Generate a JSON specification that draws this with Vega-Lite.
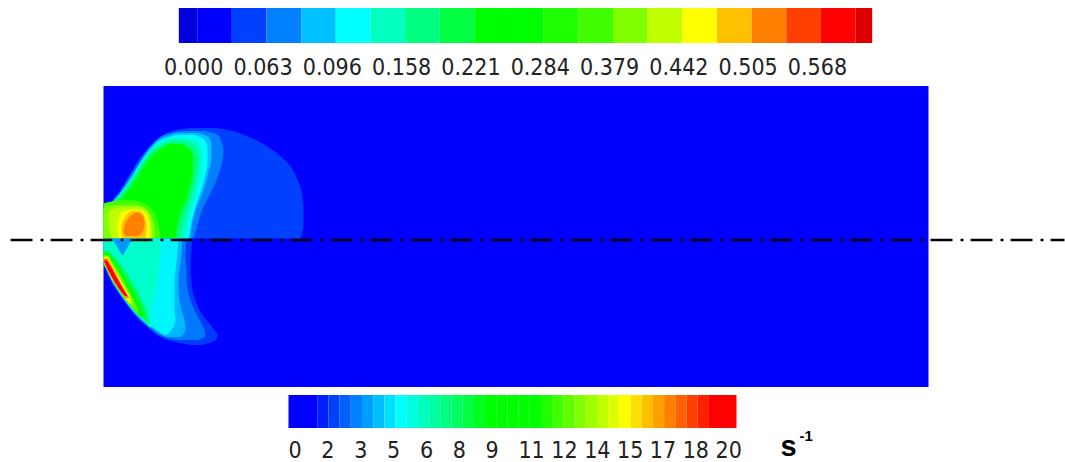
{
  "$schema": "https://vega.github.io/schema/vega-lite/v6.json",
  "padding": {"left": 8.5, "top": 8, "right": 0, "bottom": 0},
  "background": "white",
  "config": {"view": {"stroke": null}},
  "spacing": 8,
  "bounds": "flush",
  "datasets": {
    "topbar": [
      {"band": 0, "p0": -0.53, "p1": 0}, {"band": 1, "p0": 0, "p1": 1}, {"band": 2, "p0": 1, "p1": 2},
      {"band": 3, "p0": 2, "p1": 3}, {"band": 4, "p0": 3, "p1": 4}, {"band": 5, "p0": 4, "p1": 5},
      {"band": 6, "p0": 5, "p1": 6}, {"band": 7, "p0": 6, "p1": 7}, {"band": 8, "p0": 7, "p1": 8},
      {"band": 9, "p0": 8, "p1": 9}, {"band": 10, "p0": 9, "p1": 10}, {"band": 11, "p0": 10, "p1": 11},
      {"band": 12, "p0": 11, "p1": 12}, {"band": 13, "p0": 12, "p1": 13}, {"band": 14, "p0": 13, "p1": 14},
      {"band": 15, "p0": 14, "p1": 15}, {"band": 16, "p0": 15, "p1": 16}, {"band": 17, "p0": 16, "p1": 17},
      {"band": 18, "p0": 17, "p1": 18}, {"band": 19, "p0": 18, "p1": 19}, {"band": 20, "p0": 19, "p1": 19.48}
    ],
    "toplabels": [
      {"p": -0.1, "label": "0.000"}, {"p": 1.9, "label": "0.063"}, {"p": 3.9, "label": "0.096"},
      {"p": 5.9, "label": "0.158"}, {"p": 7.9, "label": "0.221"}, {"p": 9.9, "label": "0.284"},
      {"p": 11.9, "label": "0.379"}, {"p": 13.9, "label": "0.442"}, {"p": 15.9, "label": "0.505"},
      {"p": 17.9, "label": "0.568"}
    ],
    "bottombar": [
      {"v0": 0, "v1": 1.311, "rate": 0.655}, {"v0": 1.311, "v1": 1.822, "rate": 1.567},
      {"v0": 1.822, "v1": 2.333, "rate": 2.078}, {"v0": 2.333, "v1": 2.844, "rate": 2.589},
      {"v0": 2.844, "v1": 3.355, "rate": 3.1}, {"v0": 3.355, "v1": 3.866, "rate": 3.611},
      {"v0": 3.866, "v1": 4.377, "rate": 4.122}, {"v0": 4.377, "v1": 4.888, "rate": 4.633},
      {"v0": 4.888, "v1": 5.399, "rate": 5.144}, {"v0": 5.399, "v1": 5.91, "rate": 5.655},
      {"v0": 5.91, "v1": 6.421, "rate": 6.166}, {"v0": 6.421, "v1": 6.932, "rate": 6.677},
      {"v0": 6.932, "v1": 7.443, "rate": 7.188}, {"v0": 7.443, "v1": 7.954, "rate": 7.699},
      {"v0": 7.954, "v1": 8.465, "rate": 8.21}, {"v0": 8.465, "v1": 8.976, "rate": 8.721},
      {"v0": 8.976, "v1": 9.487, "rate": 9.232}, {"v0": 9.487, "v1": 9.998, "rate": 9.743},
      {"v0": 9.998, "v1": 10.509, "rate": 10.254}, {"v0": 10.509, "v1": 11.02, "rate": 10.765},
      {"v0": 11.02, "v1": 11.531, "rate": 11.276}, {"v0": 11.531, "v1": 12.042, "rate": 11.787},
      {"v0": 12.042, "v1": 12.553, "rate": 12.298}, {"v0": 12.553, "v1": 13.064, "rate": 12.809},
      {"v0": 13.064, "v1": 13.575, "rate": 13.32}, {"v0": 13.575, "v1": 14.086, "rate": 13.831},
      {"v0": 14.086, "v1": 14.597, "rate": 14.342}, {"v0": 14.597, "v1": 15.108, "rate": 14.853},
      {"v0": 15.108, "v1": 15.619, "rate": 15.364}, {"v0": 15.619, "v1": 16.13, "rate": 15.875},
      {"v0": 16.13, "v1": 16.641, "rate": 16.386}, {"v0": 16.641, "v1": 17.152, "rate": 16.897},
      {"v0": 17.152, "v1": 17.663, "rate": 17.408}, {"v0": 17.663, "v1": 18.174, "rate": 17.919},
      {"v0": 18.174, "v1": 18.685, "rate": 18.43}, {"v0": 18.685, "v1": 19.196, "rate": 18.941},
      {"v0": 19.196, "v1": 20.457, "rate": 19.8}
    ],
    "bottomlabels": [
      {"v": 0, "label": "0"}, {"v": 1.5, "label": "2"}, {"v": 3, "label": "3"}, {"v": 4.5, "label": "5"},
      {"v": 6, "label": "6"}, {"v": 7.5, "label": "8"}, {"v": 9, "label": "9"}, {"v": 10.5, "label": "11"},
      {"v": 12, "label": "12"}, {"v": 13.5, "label": "14"}, {"v": 15, "label": "15"}, {"v": 16.5, "label": "17"},
      {"v": 18, "label": "18"}, {"v": 19.5, "label": "20"}
    ],
    "upper": [
      {"band": 2, "y": 110.5, "x0": 87, "x1": 112}, {"band": 2, "y": 108.5, "x0": 73, "x1": 125},
      {"band": 2, "y": 105.5, "x0": 64, "x1": 135}, {"band": 2, "y": 96.5, "x0": 50, "x1": 156},
      {"band": 2, "y": 88.5, "x0": 43, "x1": 169}, {"band": 2, "y": 81.5, "x0": 37, "x1": 178},
      {"band": 2, "y": 73.5, "x0": 32, "x1": 186}, {"band": 2, "y": 65.5, "x0": 27, "x1": 191},
      {"band": 2, "y": 56.5, "x0": 22, "x1": 195}, {"band": 2, "y": 48.5, "x0": 17, "x1": 198},
      {"band": 2, "y": 41.5, "x0": 11, "x1": 199}, {"band": 2, "y": 35.5, "x0": 7, "x1": 200},
      {"band": 2, "y": 31.5, "x0": 0, "x1": 200}, {"band": 2, "y": 13.5, "x0": 0, "x1": 200},
      {"band": 2, "y": 0, "x0": 0, "x1": 197},
      {"band": 3, "y": 107.5, "x0": 77, "x1": 101}, {"band": 3, "y": 104.5, "x0": 63, "x1": 113},
      {"band": 3, "y": 96.5, "x0": 52, "x1": 118}, {"band": 3, "y": 88.5, "x0": 45, "x1": 120},
      {"band": 3, "y": 78.5, "x0": 37, "x1": 119}, {"band": 3, "y": 66.5, "x0": 29, "x1": 116},
      {"band": 3, "y": 53.5, "x0": 21, "x1": 111}, {"band": 3, "y": 41.5, "x0": 13, "x1": 105},
      {"band": 3, "y": 33.5, "x0": 5, "x1": 101}, {"band": 3, "y": 29.5, "x0": 0, "x1": 99},
      {"band": 3, "y": 16.5, "x0": 0, "x1": 95}, {"band": 3, "y": 0, "x0": 0, "x1": 90},
      {"band": 4, "y": 105.5, "x0": 73, "x1": 95}, {"band": 4, "y": 101.5, "x0": 60, "x1": 105},
      {"band": 4, "y": 93.5, "x0": 49, "x1": 108}, {"band": 4, "y": 80.5, "x0": 39, "x1": 108},
      {"band": 4, "y": 66.5, "x0": 31, "x1": 105}, {"band": 4, "y": 51.5, "x0": 21, "x1": 101},
      {"band": 4, "y": 38.5, "x0": 11, "x1": 96}, {"band": 4, "y": 31.5, "x0": 3, "x1": 93},
      {"band": 4, "y": 28.5, "x0": 0, "x1": 92}, {"band": 4, "y": 0, "x0": 0, "x1": 87},
      {"band": 5, "y": 103.5, "x0": 72, "x1": 91}, {"band": 5, "y": 98.5, "x0": 58, "x1": 101},
      {"band": 5, "y": 88.5, "x0": 47, "x1": 104}, {"band": 5, "y": 75.5, "x0": 37, "x1": 104},
      {"band": 5, "y": 60.5, "x0": 28, "x1": 101}, {"band": 5, "y": 46.5, "x0": 18, "x1": 97},
      {"band": 5, "y": 34.5, "x0": 7, "x1": 93}, {"band": 5, "y": 28.5, "x0": 0, "x1": 91},
      {"band": 5, "y": 0, "x0": 0, "x1": 85},
      {"band": 6, "y": 100.5, "x0": 69, "x1": 87}, {"band": 6, "y": 93.5, "x0": 53, "x1": 96},
      {"band": 6, "y": 83.5, "x0": 44, "x1": 99}, {"band": 6, "y": 70.5, "x0": 35, "x1": 98},
      {"band": 6, "y": 55.5, "x0": 25, "x1": 95}, {"band": 6, "y": 41.5, "x0": 14, "x1": 91},
      {"band": 6, "y": 31.5, "x0": 4, "x1": 88}, {"band": 6, "y": 27.5, "x0": 0, "x1": 87},
      {"band": 6, "y": 0, "x0": 0, "x1": 81},
      {"band": 7, "y": 97.5, "x0": 67, "x1": 83}, {"band": 7, "y": 90.5, "x0": 52, "x1": 92},
      {"band": 7, "y": 80.5, "x0": 42, "x1": 95}, {"band": 7, "y": 66.5, "x0": 33, "x1": 94},
      {"band": 7, "y": 51.5, "x0": 23, "x1": 91}, {"band": 7, "y": 38.5, "x0": 12, "x1": 87},
      {"band": 7, "y": 29.5, "x0": 2, "x1": 84}, {"band": 7, "y": 26.5, "x0": 0, "x1": 83},
      {"band": 7, "y": 0, "x0": 0, "x1": 77},
      {"band": 9, "y": 94.5, "x0": 65, "x1": 79}, {"band": 9, "y": 88.5, "x0": 55, "x1": 87},
      {"band": 9, "y": 78.5, "x0": 45, "x1": 90}, {"band": 9, "y": 63.5, "x0": 35, "x1": 89},
      {"band": 9, "y": 48.5, "x0": 25, "x1": 86}, {"band": 9, "y": 35.5, "x0": 14, "x1": 82},
      {"band": 9, "y": 27.5, "x0": 4, "x1": 78}, {"band": 9, "y": 24.5, "x0": 0, "x1": 77},
      {"band": 9, "y": 0, "x0": 0, "x1": 72},
      {"band": 12, "y": 38.5, "x0": 18, "x1": 29}, {"band": 12, "y": 34.5, "x0": 0, "x1": 42},
      {"band": 12, "y": 26.5, "x0": 0, "x1": 50}, {"band": 12, "y": 13.5, "x0": 0, "x1": 55},
      {"band": 12, "y": 0, "x0": 0, "x1": 57},
      {"band": 13, "y": 33.5, "x0": 5, "x1": 35}, {"band": 13, "y": 29.5, "x0": 0, "x1": 43},
      {"band": 13, "y": 18.5, "x0": 0, "x1": 49}, {"band": 13, "y": 0, "x0": 0, "x1": 52},
      {"band": 14, "y": 31.5, "x0": 15, "x1": 37}, {"band": 14, "y": 26.5, "x0": 6, "x1": 44},
      {"band": 14, "y": 18.5, "x0": 5, "x1": 47}, {"band": 14, "y": 0, "x0": 8, "x1": 49},
      {"band": 15, "y": 28.5, "x0": 25, "x1": 37}, {"band": 15, "y": 24.5, "x0": 17, "x1": 42},
      {"band": 15, "y": 13.5, "x0": 14, "x1": 46}, {"band": 15, "y": 0, "x0": 15, "x1": 46},
      {"band": 16, "y": 27.5, "x0": 28, "x1": 36}, {"band": 16, "y": 22.5, "x0": 22, "x1": 41},
      {"band": 16, "y": 10.5, "x0": 18, "x1": 43}, {"band": 16, "y": 0, "x0": 19, "x1": 42},
      {"band": 17, "y": 25.5, "x0": 31, "x1": 36}, {"band": 17, "y": 21.5, "x0": 26, "x1": 40},
      {"band": 17, "y": 14.5, "x0": 22, "x1": 41}, {"band": 17, "y": 6.5, "x0": 20, "x1": 39},
      {"band": 17, "y": 2.5, "x0": 22, "x1": 35}
    ],
    "lower": [
      {"lv": "a01", "rate": 2, "y": 0, "x0": 0, "x1": 89}, {"lv": "a01", "rate": 2, "y": -11.5, "x0": 0, "x1": 88},
      {"lv": "a01", "rate": 2, "y": -23.5, "x0": 0, "x1": 87}, {"lv": "a01", "rate": 2, "y": -31.5, "x0": 2.5, "x1": 87},
      {"lv": "a01", "rate": 2, "y": -41.5, "x0": 7, "x1": 88}, {"lv": "a01", "rate": 2, "y": -51.5, "x0": 13, "x1": 89},
      {"lv": "a01", "rate": 2, "y": -61.5, "x0": 20, "x1": 92}, {"lv": "a01", "rate": 2, "y": -71.5, "x0": 27, "x1": 96},
      {"lv": "a01", "rate": 2, "y": -81.5, "x0": 36, "x1": 103}, {"lv": "a01", "rate": 2, "y": -91.5, "x0": 47, "x1": 111},
      {"lv": "a01", "rate": 2, "y": -97.5, "x0": 55, "x1": 114}, {"lv": "a01", "rate": 2, "y": -102.5, "x0": 67, "x1": 111},
      {"lv": "a01", "rate": 2, "y": -106.5, "x0": 87, "x1": 97},
      {"lv": "a02", "rate": 3, "y": 0, "x0": 0, "x1": 83}, {"lv": "a02", "rate": 3, "y": -23.5, "x0": 0, "x1": 82},
      {"lv": "a02", "rate": 3, "y": -31.5, "x0": 3, "x1": 83}, {"lv": "a02", "rate": 3, "y": -41.5, "x0": 7.5, "x1": 83},
      {"lv": "a02", "rate": 3, "y": -51.5, "x0": 13.5, "x1": 84}, {"lv": "a02", "rate": 3, "y": -61.5, "x0": 20.5, "x1": 87},
      {"lv": "a02", "rate": 3, "y": -71.5, "x0": 28, "x1": 91}, {"lv": "a02", "rate": 3, "y": -81.5, "x0": 37, "x1": 96},
      {"lv": "a02", "rate": 3, "y": -91.5, "x0": 49, "x1": 101}, {"lv": "a02", "rate": 3, "y": -97.5, "x0": 58, "x1": 102},
      {"lv": "a02", "rate": 3, "y": -101.5, "x0": 72, "x1": 94},
      {"lv": "a03", "rate": 4, "y": 0, "x0": 0, "x1": 79}, {"lv": "a03", "rate": 4, "y": -23.5, "x0": 0, "x1": 77},
      {"lv": "a03", "rate": 4, "y": -31.5, "x0": 3, "x1": 76}, {"lv": "a03", "rate": 4, "y": -41.5, "x0": 8, "x1": 75},
      {"lv": "a03", "rate": 4, "y": -51.5, "x0": 14, "x1": 75}, {"lv": "a03", "rate": 4, "y": -61.5, "x0": 21, "x1": 76},
      {"lv": "a03", "rate": 4, "y": -71.5, "x0": 28.5, "x1": 78}, {"lv": "a03", "rate": 4, "y": -81.5, "x0": 38, "x1": 81},
      {"lv": "a03", "rate": 4, "y": -91.5, "x0": 51, "x1": 82}, {"lv": "a03", "rate": 4, "y": -98.5, "x0": 62, "x1": 77},
      {"lv": "a04", "rate": 5, "y": 0, "x0": 0, "x1": 75}, {"lv": "a04", "rate": 5, "y": -23.5, "x0": 0, "x1": 73},
      {"lv": "a04", "rate": 5, "y": -31.5, "x0": 3.5, "x1": 72}, {"lv": "a04", "rate": 5, "y": -41.5, "x0": 8, "x1": 71},
      {"lv": "a04", "rate": 5, "y": -51.5, "x0": 14, "x1": 71}, {"lv": "a04", "rate": 5, "y": -61.5, "x0": 21, "x1": 71},
      {"lv": "a04", "rate": 5, "y": -71.5, "x0": 29, "x1": 71}, {"lv": "a04", "rate": 5, "y": -81.5, "x0": 39, "x1": 72},
      {"lv": "a04", "rate": 5, "y": -91.5, "x0": 53, "x1": 68}, {"lv": "a04", "rate": 5, "y": -96.5, "x0": 60, "x1": 63},
      {"lv": "a05", "rate": 6, "y": 0, "x0": 0, "x1": 58}, {"lv": "a05", "rate": 6, "y": -23.5, "x0": 0, "x1": 56},
      {"lv": "a05", "rate": 6, "y": -31.5, "x0": 3.5, "x1": 55}, {"lv": "a05", "rate": 6, "y": -41.5, "x0": 8, "x1": 54},
      {"lv": "a05", "rate": 6, "y": -51.5, "x0": 14.5, "x1": 52}, {"lv": "a05", "rate": 6, "y": -61.5, "x0": 21.5, "x1": 50},
      {"lv": "a05", "rate": 6, "y": -71.5, "x0": 30, "x1": 48}, {"lv": "a05", "rate": 6, "y": -81.5, "x0": 40, "x1": 47},
      {"lv": "a05", "rate": 6, "y": -88.5, "x0": 46, "x1": 48},
      {"lv": "a06", "rate": 8, "y": -12, "x0": 0, "x1": 5}, {"lv": "a06", "rate": 8, "y": -23.5, "x0": 0, "x1": 15},
      {"lv": "a06", "rate": 8, "y": -31.5, "x0": 3.5, "x1": 21}, {"lv": "a06", "rate": 8, "y": -41.5, "x0": 8.5, "x1": 27},
      {"lv": "a06", "rate": 8, "y": -51.5, "x0": 15, "x1": 33}, {"lv": "a06", "rate": 8, "y": -61.5, "x0": 22, "x1": 38},
      {"lv": "a06", "rate": 8, "y": -71.5, "x0": 30, "x1": 42}, {"lv": "a06", "rate": 8, "y": -81.5, "x0": 41, "x1": 45},
      {"lv": "a06", "rate": 8, "y": -85.5, "x0": 44, "x1": 46},
      {"lv": "a07", "rate": 10, "y": -15, "x0": 0, "x1": 5}, {"lv": "a07", "rate": 10, "y": -23.5, "x0": 0, "x1": 11.5},
      {"lv": "a07", "rate": 10, "y": -31.5, "x0": 3.5, "x1": 17}, {"lv": "a07", "rate": 10, "y": -41.5, "x0": 8.5, "x1": 23},
      {"lv": "a07", "rate": 10, "y": -51.5, "x0": 15, "x1": 29}, {"lv": "a07", "rate": 10, "y": -61.5, "x0": 22, "x1": 34},
      {"lv": "a07", "rate": 10, "y": -71.5, "x0": 30.5, "x1": 38}, {"lv": "a07", "rate": 10, "y": -79, "x0": 37, "x1": 40},
      {"lv": "a08", "rate": 13, "y": -16.5, "x0": 0, "x1": 5}, {"lv": "a08", "rate": 13, "y": -23.5, "x0": 0, "x1": 9},
      {"lv": "a08", "rate": 13, "y": -31.5, "x0": 4, "x1": 14}, {"lv": "a08", "rate": 13, "y": -41.5, "x0": 9, "x1": 19.5},
      {"lv": "a08", "rate": 13, "y": -51.5, "x0": 15.5, "x1": 25}, {"lv": "a08", "rate": 13, "y": -61.5, "x0": 22.5, "x1": 30},
      {"lv": "a08", "rate": 13, "y": -71.5, "x0": 31, "x1": 34.5}, {"lv": "a08", "rate": 13, "y": -74, "x0": 33, "x1": 35},
      {"lv": "a09", "rate": 15.4, "y": -18.5, "x0": 0, "x1": 4.5}, {"lv": "a09", "rate": 15.4, "y": -23.5, "x0": 0.5, "x1": 7},
      {"lv": "a09", "rate": 15.4, "y": -31.5, "x0": 4, "x1": 11.5}, {"lv": "a09", "rate": 15.4, "y": -41.5, "x0": 9, "x1": 17},
      {"lv": "a09", "rate": 15.4, "y": -51.5, "x0": 16, "x1": 22.5}, {"lv": "a09", "rate": 15.4, "y": -61.5, "x0": 23, "x1": 27.5},
      {"lv": "a09", "rate": 15.4, "y": -65, "x0": 25.5, "x1": 28},
      {"lv": "a10", "rate": 17.4, "y": -20, "x0": 0, "x1": 4}, {"lv": "a10", "rate": 17.4, "y": -23.5, "x0": 0.5, "x1": 6},
      {"lv": "a10", "rate": 17.4, "y": -31.5, "x0": 4.5, "x1": 10.5}, {"lv": "a10", "rate": 17.4, "y": -41.5, "x0": 9.5, "x1": 15.5},
      {"lv": "a10", "rate": 17.4, "y": -51.5, "x0": 16, "x1": 21}, {"lv": "a10", "rate": 17.4, "y": -59.5, "x0": 22, "x1": 26},
      {"lv": "a11", "rate": 19.8, "y": -22, "x0": 0.5, "x1": 3.5}, {"lv": "a11", "rate": 19.8, "y": -31.5, "x0": 4.5, "x1": 9},
      {"lv": "a11", "rate": 19.8, "y": -41.5, "x0": 10, "x1": 14.5}, {"lv": "a11", "rate": 19.8, "y": -51.5, "x0": 16.5, "x1": 20.5},
      {"lv": "a11", "rate": 19.8, "y": -57.5, "x0": 21, "x1": 24},
      {"lv": "a12", "rate": 3.5, "y": 0, "x0": 9, "x1": 29}, {"lv": "a12", "rate": 3.5, "y": -4, "x0": 11, "x1": 27},
      {"lv": "a12", "rate": 3.5, "y": -9, "x0": 14, "x1": 24}, {"lv": "a12", "rate": 3.5, "y": -14, "x0": 17, "x1": 21},
      {"lv": "a12", "rate": 3.5, "y": -17, "x0": 19, "x1": 19.5}
    ],
    "centerline": [{"x0": -93, "x1": 961, "y": -1.5}]
  },
  "vconcat": [
    {
      "width": 825,
      "height": 70,
      "layer": [
        {
          "data": {"name": "topbar"},
          "mark": {"type": "rect"},
          "encoding": {
            "x": {"field": "p0", "type": "quantitative", "scale": {"domain": [-2.704, 21.105], "nice": false, "zero": false}, "axis": null},
            "x2": {"field": "p1"},
            "y": {"datum": 2, "type": "quantitative", "scale": {"domain": [0, 2], "nice": false, "zero": false}, "axis": null},
            "y2": {"datum": 1},
            "fill": {
              "field": "band", "type": "ordinal", "legend": null,
              "scale": {
                "domain": [0, 1, 2, 3, 4, 5, 6, 7, 8, 9, 10, 11, 12, 13, 14, 15, 16, 17, 18, 19, 20],
                "range": ["#0000dc", "#0000ff", "#0040ff", "#0080ff", "#00c0ff", "#00ffff", "#00ffc0", "#00ff80", "#00ff40", "#00ff00", "#00ff00", "#20ff00", "#40ff00", "#80ff00", "#c0ff00", "#ffff00", "#ffc000", "#ff8000", "#ff4000", "#ff0000", "#dc0000"]
              }
            }
          }
        },
        {
          "data": {"name": "toplabels"},
          "mark": {"type": "text", "font": "Liberation Sans Narrow, DejaVu Sans Condensed, sans-serif", "fontSize": 23, "align": "center", "baseline": "alphabetic", "color": "#222222"},
          "encoding": {
            "x": {"field": "p", "type": "quantitative", "scale": {"domain": [-2.704, 21.105], "nice": false, "zero": false}, "axis": null},
            "y": {"datum": 0.1, "type": "quantitative", "scale": {"domain": [0, 2], "nice": false, "zero": false}, "axis": null},
            "text": {"field": "label"}
          }
        }
      ]
    },
    {
      "width": 825,
      "height": 301,
      "view": {"fill": "#0000ff", "stroke": null},
      "layer": [
        {
          "data": {"name": "upper"},
          "mark": {"type": "area", "orient": "horizontal", "interpolate": "monotone"},
          "encoding": {
            "y": {"field": "y", "type": "quantitative", "scale": {"domain": [-148.5, 152.5], "nice": false, "zero": false}, "axis": null},
            "x": {"field": "x0", "type": "quantitative", "scale": {"domain": [0, 825], "nice": false, "zero": false}, "axis": null},
            "x2": {"field": "x1"},
            "fill": {"field": "band", "type": "ordinal", "legend": null}
          }
        },
        {
          "data": {"name": "lower"},
          "mark": {"type": "area", "orient": "horizontal", "interpolate": "monotone"},
          "encoding": {
            "y": {"field": "y", "type": "quantitative", "scale": {"domain": [-148.5, 152.5], "nice": false, "zero": false}, "axis": null},
            "x": {"field": "x0", "type": "quantitative", "scale": {"domain": [0, 825], "nice": false, "zero": false}, "axis": null},
            "x2": {"field": "x1"},
            "detail": {"field": "lv"},
            "color": {"field": "rate", "type": "quantitative", "legend": null}
          }
        },
        {
          "data": {"name": "centerline"},
          "mark": {"type": "rule", "color": "#000000", "strokeWidth": 2.6, "strokeDash": [22, 8, 3, 7]},
          "encoding": {
            "x": {"field": "x0", "type": "quantitative", "scale": {"domain": [0, 825], "nice": false, "zero": false}, "axis": null},
            "x2": {"field": "x1"},
            "y": {"field": "y", "type": "quantitative", "scale": {"domain": [-148.5, 152.5], "nice": false, "zero": false}, "axis": null}
          }
        }
      ]
    },
    {
      "width": 825,
      "height": 66,
      "layer": [
        {
          "data": {"name": "bottombar"},
          "mark": {"type": "rect"},
          "encoding": {
            "x": {"field": "v0", "type": "quantitative", "scale": {"domain": [-8.447, 29.224], "nice": false, "zero": false}, "axis": null},
            "x2": {"field": "v1"},
            "y": {"datum": 2, "type": "quantitative", "scale": {"domain": [0, 2], "nice": false, "zero": false}, "axis": null},
            "y2": {"datum": 1},
            "color": {
              "field": "rate", "type": "quantitative", "legend": null,
              "scale": {
                "type": "linear", "clamp": true, "interpolate": "rgb",
                "domain": [1.056, 5.144, 9.232, 11.276, 15.364, 19.452],
                "range": ["#0000ff", "#00ffff", "#00ff00", "#00ff00", "#ffff00", "#ff0000"]
              }
            }
          }
        },
        {
          "data": {"name": "bottomlabels"},
          "mark": {"type": "text", "font": "Liberation Sans Narrow, DejaVu Sans Condensed, sans-serif", "fontSize": 23, "align": "left", "baseline": "alphabetic", "color": "#222222"},
          "encoding": {
            "x": {"field": "v", "type": "quantitative", "scale": {"domain": [-8.447, 29.224], "nice": false, "zero": false}, "axis": null},
            "y": {"datum": 0.09, "type": "quantitative", "scale": {"domain": [0, 2], "nice": false, "zero": false}, "axis": null},
            "text": {"field": "label"}
          }
        },
        {
          "data": {"values": [{"v": 22.47, "unit": "s"}]},
          "mark": {"type": "text", "font": "Liberation Sans, Arial, sans-serif", "fontWeight": "bold", "fontSize": 29, "align": "left", "baseline": "alphabetic", "color": "#000000"},
          "encoding": {
            "x": {"field": "v", "type": "quantitative", "scale": {"domain": [-8.447, 29.224], "nice": false, "zero": false}, "axis": null},
            "y": {"datum": 0.15, "type": "quantitative", "scale": {"domain": [0, 2], "nice": false, "zero": false}, "axis": null},
            "text": {"field": "unit"}
          }
        },
        {
          "data": {"values": [{"v": 23.33, "unit": "-1"}]},
          "mark": {"type": "text", "font": "Liberation Sans, Arial, sans-serif", "fontWeight": "bold", "fontSize": 15, "align": "left", "baseline": "alphabetic", "color": "#000000"},
          "encoding": {
            "x": {"field": "v", "type": "quantitative", "scale": {"domain": [-8.447, 29.224], "nice": false, "zero": false}, "axis": null},
            "y": {"datum": 0.606, "type": "quantitative", "scale": {"domain": [0, 2], "nice": false, "zero": false}, "axis": null},
            "text": {"field": "unit"}
          }
        }
      ]
    }
  ]
}
